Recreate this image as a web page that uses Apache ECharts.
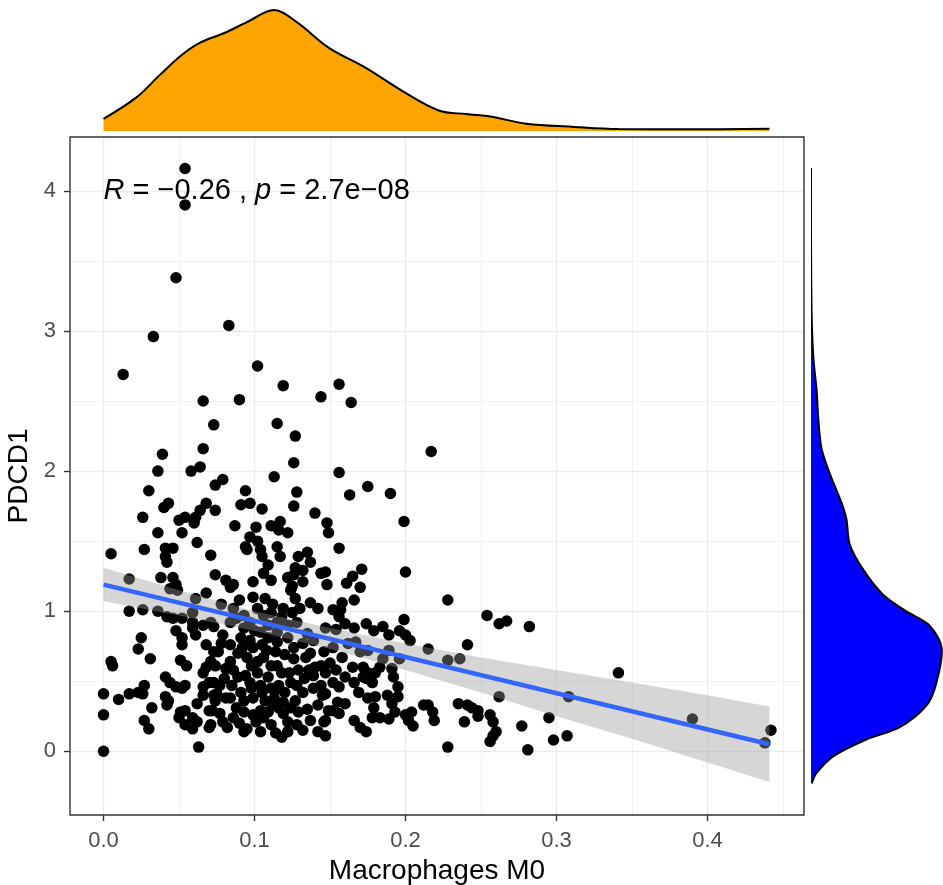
<!DOCTYPE html>
<html>
<head>
<meta charset="utf-8">
<script src="https://cdn.jsdelivr.net/npm/echarts@6/dist/echarts.min.js"></script>
<style>
html,body{margin:0;padding:0;background:#fff;}
#chart{width:943px;height:885px;}
</style>
</head>
<body>
<div id="chart"></div>
<script>
// ---- data ----
const xTitle = 'Macrophages M0';
const yTitle = 'PDCD1';
const xTicks = [0, 0.1, 0.2, 0.3, 0.4];
const xMinor = [0.05, 0.15, 0.25, 0.35, 0.45];
const yTicks = [0, 1, 2, 3, 4];
const yMinor = [0.5, 1.5, 2.5, 3.5];
const xRange = [-0.0222, 0.4639];
const yRange = [-0.455, 4.385];

// [Macrophages M0, PDCD1]
const samples = [
[0.054,4.16],[0.054,3.90],[0.048,3.38],[0.083,3.04],[0.033,2.96],[0.013,2.69],[0.102,2.75],[0.066,2.50],[0.090,2.51],[0.119,2.61],
[0.156,2.62],[0.144,2.53],[0.164,2.49],[0.115,2.34],[0.073,2.33],[0.039,2.12],[0.066,2.16],[0.036,2.00],[0.058,2.00],[0.064,2.03],
[0.074,1.90],[0.030,1.86],[0.043,1.77],[0.040,1.74],[0.068,1.77],[0.064,1.72],[0.074,1.72],[0.026,1.67],[0.050,1.65],[0.054,1.67],
[0.061,1.67],[0.060,1.63],[0.036,1.56],[0.052,1.56],[0.062,1.49],[0.027,1.44],[0.005,1.41],[0.041,1.45],[0.046,1.45],[0.041,1.39],
[0.042,1.35],[0.071,1.40],[0.074,1.26],[0.017,1.23],[0.038,1.24],[0.046,1.24],[0.048,1.19],[0.127,2.25],[0.126,2.06],[0.113,1.96],
[0.079,1.94],[0.094,1.86],[0.128,1.85],[0.091,1.76],[0.097,1.77],[0.105,1.73],[0.126,1.75],[0.140,1.70],[0.148,1.63],[0.087,1.61],
[0.101,1.60],[0.111,1.61],[0.117,1.64],[0.116,1.58],[0.122,1.56],[0.149,1.56],[0.097,1.53],[0.102,1.50],[0.094,1.46],[0.095,1.44],
[0.115,1.46],[0.117,1.39],[0.105,1.39],[0.109,1.33],[0.129,1.39],[0.135,1.42],[0.137,1.35],[0.127,1.31],[0.144,1.27],[0.081,1.22],
[0.086,1.19],[0.106,1.27],[0.111,1.22],[0.099,1.21],[0.126,1.26],[0.132,1.21],[0.125,1.18],[0.148,1.19],[0.217,2.14],[0.156,1.99],
[0.175,1.89],[0.163,1.83],[0.190,1.84],[0.199,1.64],[0.156,1.45],[0.147,1.28],[0.171,1.30],[0.165,1.25],[0.161,1.20],[0.170,1.17],
[0.200,1.28],[0.158,1.06],[0.166,1.08],[0.157,1.01],[0.156,0.96],[0.228,1.08],[0.199,0.94],[0.166,0.88],[0.179,0.86],[0.185,0.89],
[0.189,0.83],[0.196,0.86],[0.200,0.83],[0.203,0.79],[0.154,0.87],[0.215,0.73],[0.241,0.76],[0.228,0.65],[0.236,0.66],[0.152,0.74],
[0.167,0.78],[0.170,0.71],[0.185,0.66],[0.196,0.66],[0.158,0.67],[0.150,0.63],[0.147,0.56],[0.165,0.60],[0.172,0.60],[0.175,0.56],
[0.183,0.60],[0.191,0.59],[0.192,0.53],[0.154,0.58],[0.156,0.46],[0.166,0.49],[0.174,0.52],[0.178,0.49],[0.169,0.42],[0.195,0.46],
[0.188,0.40],[0.195,0.39],[0.175,0.38],[0.180,0.39],[0.147,0.41],[0.155,0.35],[0.152,0.29],[0.156,0.27],[0.147,0.22],[0.179,0.31],
[0.193,0.28],[0.178,0.24],[0.183,0.24],[0.189,0.23],[0.166,0.22],[0.174,0.14],[0.170,0.17],[0.200,0.26],[0.204,0.28],[0.205,0.18],
[0.202,0.22],[0.147,0.11],[0.212,0.33],[0.215,0.33],[0.218,0.28],[0.219,0.22],[0.235,0.34],[0.241,0.33],[0.244,0.31],[0.239,0.21],
[0.228,0.03],[0.254,0.97],[0.262,0.91],[0.267,0.93],[0.282,0.89],[0.341,0.56],[0.262,0.39],[0.308,0.39],[0.248,0.29],[0.248,0.25],
[0.256,0.26],[0.258,0.21],[0.260,0.14],[0.258,0.11],[0.256,0.07],[0.277,0.18],[0.295,0.24],[0.298,0.08],[0.307,0.11],[0.281,0.01],
[0.390,0.23],[0.442,0.15],[0.438,0.06],[0.017,1.00],[0.026,1.01],[0.036,1.00],[0.042,0.96],[0.052,0.95],[0.059,0.99],[0.061,1.09],
[0.068,1.13],[0.044,1.16],[0.049,1.15],[0.059,0.92],[0.066,0.90],[0.071,0.92],[0.025,0.81],[0.023,0.73],[0.031,0.66],[0.052,0.81],
[0.052,0.76],[0.059,0.88],[0.006,0.61],[0.051,0.65],[0.055,0.61],[0.068,0.60],[0.071,0.64],[0.066,0.56],[0.041,0.53],[0.044,0.49],
[0.048,0.46],[0.052,0.45],[0.054,0.47],[0.066,0.46],[0.070,0.49],[0.027,0.47],[0.000,0.41],[0.010,0.37],[0.017,0.41],[0.023,0.42],
[0.026,0.41],[0.041,0.39],[0.043,0.36],[0.042,0.33],[0.032,0.31],[0.051,0.28],[0.054,0.29],[0.062,0.34],[0.070,0.29],[0.073,0.40],
[0.000,0.26],[0.027,0.22],[0.030,0.16],[0.050,0.24],[0.054,0.19],[0.059,0.16],[0.062,0.21],[0.070,0.17],[0.063,0.03],[0.000,0.00],
[0.005,0.64],[0.084,1.17],[0.099,1.10],[0.107,1.09],[0.124,1.15],[0.137,1.06],[0.119,1.02],[0.125,0.99],[0.111,0.99],[0.102,1.02],
[0.086,1.02],[0.073,0.89],[0.079,0.83],[0.091,0.81],[0.093,0.88],[0.104,0.85],[0.109,0.81],[0.122,0.81],[0.132,0.77],[0.139,0.79],
[0.076,0.71],[0.089,0.70],[0.099,0.74],[0.105,0.76],[0.114,0.71],[0.095,0.67],[0.106,0.67],[0.126,0.66],[0.134,0.67],[0.144,0.61],
[0.074,0.61],[0.081,0.59],[0.115,0.61],[0.123,0.56],[0.129,0.58],[0.136,0.58],[0.094,0.54],[0.102,0.56],[0.109,0.53],[0.073,0.49],
[0.077,0.47],[0.085,0.47],[0.097,0.49],[0.116,0.47],[0.124,0.49],[0.144,0.47],[0.075,0.41],[0.091,0.42],[0.105,0.42],[0.114,0.44],
[0.132,0.42],[0.139,0.45],[0.074,0.36],[0.081,0.38],[0.093,0.36],[0.107,0.36],[0.119,0.35],[0.127,0.36],[0.145,0.40],[0.072,0.29],
[0.077,0.27],[0.086,0.24],[0.099,0.26],[0.109,0.28],[0.116,0.31],[0.129,0.28],[0.137,0.22],[0.146,0.21],[0.071,0.19],[0.095,0.16],
[0.101,0.21],[0.106,0.24],[0.114,0.13],[0.132,0.15],[0.119,0.27],[0.084,0.92],[0.093,0.97],[0.097,0.92],[0.115,0.92],[0.122,0.90],
[0.109,0.90],[0.128,0.92],[0.142,1.02],[0.147,0.88],[0.084,0.76],[0.097,0.79],[0.115,0.78],[0.126,0.74],[0.146,0.71],[0.084,0.64],
[0.102,0.64],[0.111,0.61],[0.139,0.54],[0.089,0.53],[0.104,0.47],[0.111,0.45],[0.128,0.47],[0.084,0.38],[0.099,0.38],[0.113,0.38],
[0.124,0.31],[0.142,0.33],[0.093,0.28],[0.104,0.29],[0.079,0.21],[0.111,0.19],[0.122,0.21],[0.128,0.19],[0.093,0.14],[0.104,0.14],
[0.122,0.14],[0.142,0.14],[0.048,0.86],[0.061,0.83],[0.068,0.76],[0.073,0.71],[0.046,0.95],[0.066,0.40],[0.059,0.24],[0.104,1.44],
[0.132,1.29],[0.122,1.24],[0.152,1.01],[0.160,0.91],[0.174,0.91],[0.162,0.77],[0.175,0.72],[0.189,0.72],[0.172,0.53],[0.180,0.56],
[0.160,0.53],[0.152,0.49],[0.160,0.34],[0.149,0.29],[0.191,0.34],[0.078,1.05],[0.090,1.08],[0.112,1.05],[0.130,1.02],[0.118,0.96],
[0.088,0.95],[0.100,0.86],[0.115,0.85],[0.135,0.84],[0.078,0.77],[0.092,0.74],[0.108,0.72],[0.120,0.69],[0.137,0.70],[0.086,0.58],
[0.098,0.61],[0.118,0.56],[0.133,0.52],[0.080,0.52],[0.120,0.42],[0.098,0.45],[0.088,0.31],[0.112,0.33],[0.135,0.30],[0.082,0.17],
[0.118,0.10],[0.090,0.20],[0.140,0.60],[0.106,0.97],[0.127,1.09]
];

// linear fit and its confidence band
const fitX = [0, 0.441];
const fitY = [1.19, 0.05];
const bandX     = [0,    0.05, 0.10, 0.15, 0.20, 0.25, 0.30, 0.35, 0.40, 0.441];
const bandUpper = [1.31, 1.15, 1.00, 0.88, 0.77, 0.67, 0.58, 0.49, 0.40, 0.32];
const bandLower = [1.07, 0.97, 0.86, 0.73, 0.58, 0.42, 0.25, 0.09, -0.08, -0.22];

// correlation annotation
const corR = '\u22120.26';
const corP = '2.7e\u221208';
const annotPos = [0, 4.0];

// marginal densities (relative heights)
const topDensX = [0, 0.022, 0.037, 0.052, 0.064, 0.080, 0.095, 0.113, 0.128, 0.149, 0.174, 0.198, 0.222, 0.240, 0.256, 0.280, 0.310, 0.341, 0.386, 0.441];
const topDensH = [0.10, 0.28, 0.46, 0.63, 0.73, 0.81, 0.90, 1.00, 0.90, 0.69, 0.52, 0.33, 0.17, 0.14, 0.12, 0.06, 0.035, 0.016, 0.014, 0.018];
const rightDensY = [4.164, 3.70, 3.11, 2.81, 2.576, 2.37, 2.16, 1.98, 1.775, 1.657, 1.478, 1.30, 1.12, 1.00, 0.90, 0.736, 0.47, 0.32, 0.17, 0.084, -0.036, -0.154, -0.229];
const rightDensH = [0, 0.0, 0.005, 0.018, 0.043, 0.056, 0.081, 0.144, 0.233, 0.271, 0.296, 0.397, 0.549, 0.727, 0.904, 1.00, 0.954, 0.878, 0.676, 0.423, 0.17, 0.043, 0.005];

// ---- chart ----
const FONT = '"Liberation Sans", Arial, Helvetica, sans-serif';
const chart = echarts.init(document.getElementById('chart'), null, {renderer: 'canvas'});

const gridColor = '#EBEBEB';
const option = {
  animation: false,
  backgroundColor: '#ffffff',
  textStyle: {fontFamily: FONT},
  grid: [
    {left: 70, top: 137, width: 734, height: 678, show: true, borderColor: '#333333', borderWidth: 1.4,
     backgroundColor: 'transparent', z: 1, outerBoundsMode: 'none', containLabel: false},
    {left: 70, top: 4, width: 734, height: 127, outerBoundsMode: 'none', containLabel: false},
    {left: 811, top: 137, width: 132, height: 678, outerBoundsMode: 'none', containLabel: false}
  ],
  xAxis: [
    {gridIndex: 0, type: 'value', min: xRange[0], max: xRange[1], position: 'bottom',
     axisLine: {show: false, onZero: false},
     axisTick: {show: true, length: 6, customValues: xTicks, lineStyle: {color: '#333333', width: 1.4}},
     axisLabel: {customValues: xTicks, formatter: v => v.toFixed(1), color: '#4D4D4D', fontSize: 22, margin: 15, fontFamily: FONT},
     splitLine: {show: true, lineStyle: {color: gridColor, width: 1.3}},
     name: xTitle, nameLocation: 'middle', nameGap: 33,
     nameTextStyle: {fontSize: 28, color: '#000', fontFamily: FONT}},
    {gridIndex: 0, type: 'value', min: xRange[0], max: xRange[1], position: 'bottom',
     axisLine: {show: false, onZero: false}, axisLabel: {show: false},
     axisTick: {show: false, customValues: xMinor},
     splitLine: {show: true, lineStyle: {color: gridColor, width: 0.7}}},
    {gridIndex: 1, type: 'value', min: xRange[0], max: xRange[1], show: false},
    {gridIndex: 2, type: 'value', min: 0, max: 1.01, show: false}
  ],
  yAxis: [
    {gridIndex: 0, type: 'value', min: yRange[0], max: yRange[1], position: 'left',
     axisLine: {show: false, onZero: false},
     axisTick: {show: true, length: 6, customValues: yTicks, lineStyle: {color: '#333333', width: 1.4}},
     axisLabel: {customValues: yTicks, formatter: v => String(v), color: '#4D4D4D', fontSize: 22, margin: 14, fontFamily: FONT},
     splitLine: {show: true, lineStyle: {color: gridColor, width: 1.3}},
     name: yTitle, nameLocation: 'middle', nameGap: 36, nameRotate: 90,
     nameTextStyle: {fontSize: 28, color: '#000', fontFamily: FONT}},
    {gridIndex: 0, type: 'value', min: yRange[0], max: yRange[1], position: 'left',
     axisLine: {show: false, onZero: false}, axisLabel: {show: false},
     axisTick: {show: false, customValues: yMinor},
     splitLine: {show: true, lineStyle: {color: gridColor, width: 0.7}}},
    {gridIndex: 1, type: 'value', min: 0, max: 1.05, show: false},
    {gridIndex: 2, type: 'value', min: yRange[0], max: yRange[1], show: false}
  ],
  series: [
    {
      type: 'scatter', xAxisIndex: 0, yAxisIndex: 0, z: 2,
      data: samples, symbol: 'circle', symbolSize: 11.5,
      itemStyle: {color: '#000000', opacity: 1}, emphasis: {disabled: true}, silent: true
    },
    {
      type: 'custom', xAxisIndex: 0, yAxisIndex: 0, z: 3, silent: true,
      data: [[bandX[0], bandUpper[0]]],
      renderItem: function (params, api) {
        const up = bandX.map((x, i) => api.coord([x, bandUpper[i]]));
        const lo = bandX.map((x, i) => api.coord([x, bandLower[i]])).reverse();
        return {type: 'polygon', shape: {points: up.concat(lo)}, style: {fill: 'rgba(153,153,153,0.4)'}};
      }
    },
    {
      type: 'line', xAxisIndex: 0, yAxisIndex: 0, z: 4, silent: true,
      data: fitX.map((x, i) => [x, fitY[i]]), symbol: 'none',
      lineStyle: {color: '#3366FF', width: 4.5}
    },
    {
      type: 'scatter', xAxisIndex: 0, yAxisIndex: 0, z: 5, silent: true,
      data: [annotPos], symbolSize: 0, itemStyle: {opacity: 1},
      label: {
        show: true, position: 'right', distance: 0, opacity: 1,
        formatter: '{i|R}{n| = ' + corR + ' , }{i|p}{n| = ' + corP + '}',
        rich: {
          i: {fontStyle: 'italic', fontSize: 29, color: '#000000', fontFamily: FONT},
          n: {fontSize: 29, color: '#000000', fontFamily: FONT}
        }
      }
    },
    {
      type: 'line', xAxisIndex: 2, yAxisIndex: 2, silent: true,
      data: topDensX.map((x, i) => [x, topDensH[i]]), symbol: 'none', smooth: 0.35,
      lineStyle: {color: '#000', width: 2},
      areaStyle: {color: '#FFA500', opacity: 1}
    },
    {
      type: 'custom', xAxisIndex: 3, yAxisIndex: 3, silent: true, clip: true,
      data: [[rightDensH[0], rightDensY[0]]],
      renderItem: function (params, api) {
        const pts = rightDensY.map((y, i) => api.coord([rightDensH[i], y]));
        const fillPts = pts.concat([api.coord([0, rightDensY[rightDensY.length - 1]]), api.coord([0, rightDensY[0]])]);
        return {type: 'group', children: [
          {type: 'polygon', shape: {points: fillPts, smooth: 0.3}, style: {fill: '#0000FF'}},
          {type: 'polyline', shape: {points: pts, smooth: 0.3}, style: {stroke: '#000', lineWidth: 2, fill: null}}
        ]};
      }
    }
  ]
};
chart.setOption(option);
</script>
</body>
</html>
